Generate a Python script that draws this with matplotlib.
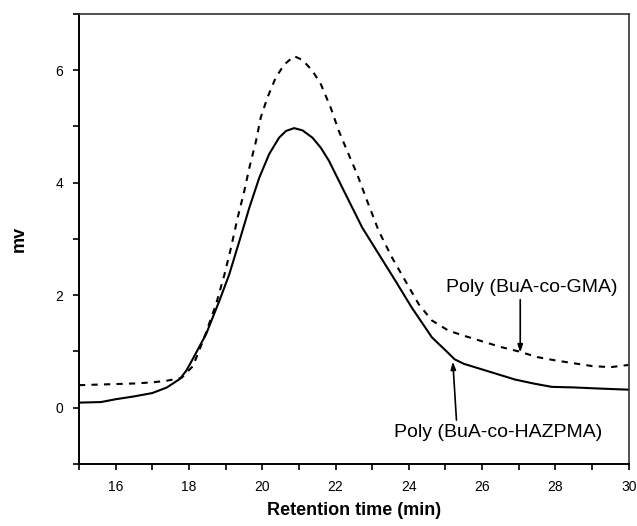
import matplotlib
matplotlib.use("Agg")
import matplotlib.pyplot as plt
from matplotlib.ticker import FixedLocator

# GPC traces (retention time in min, signal in mV)
hazpma_t = [15.0, 15.6, 16.0, 16.5, 17.0, 17.4, 17.75, 17.93, 18.1, 18.47,
            18.83, 19.10, 19.38, 19.65, 19.92, 20.19, 20.46, 20.65, 20.87, 21.1,
            21.37, 21.6, 21.82, 22.27, 22.73, 23.18, 23.63, 24.08, 24.63, 25.0,
            25.25, 25.5, 25.8, 26.4, 26.9, 27.4, 27.9, 28.5, 29.2, 30.0]
hazpma_mv = [0.09, 0.10, 0.15, 0.20, 0.26, 0.36, 0.51, 0.66, 0.86, 1.31,
             1.90, 2.37, 2.97, 3.56, 4.09, 4.51, 4.80, 4.92, 4.97, 4.93,
             4.80, 4.62, 4.39, 3.80, 3.20, 2.73, 2.26, 1.78, 1.25, 1.02,
             0.86, 0.78, 0.72, 0.60, 0.50, 0.43, 0.37, 0.36, 0.34, 0.32]

gma_t = [15.0, 15.5, 16.0, 16.5, 17.0, 17.4, 17.8, 18.11, 18.42, 18.74,
         18.97, 19.15, 19.33, 19.51, 19.65, 19.83, 19.96, 20.14, 20.37, 20.6,
         20.87, 21.1, 21.37, 21.6, 21.87, 22.09, 22.32, 22.59, 22.86, 23.18,
         23.54, 23.9, 24.27, 24.63, 25.08, 25.5, 26.0, 26.5, 27.0, 27.5,
         28.0, 28.5, 29.0, 29.5, 30.0]
gma_mv = [0.40, 0.41, 0.42, 0.43, 0.45, 0.48, 0.53, 0.74, 1.25, 1.84,
          2.37, 2.85, 3.38, 3.85, 4.27, 4.74, 5.16, 5.51, 5.87, 6.10,
          6.25, 6.18, 5.99, 5.75, 5.33, 4.92, 4.56, 4.15, 3.68, 3.14,
          2.67, 2.26, 1.84, 1.55, 1.37, 1.28, 1.18, 1.08, 1.00, 0.90,
          0.84, 0.79, 0.74, 0.72, 0.76]

x_major = [16, 18, 20, 22, 24, 26, 28, 30]
x_minor = [15, 17, 19, 21, 23, 25, 27, 29]
y_major = [0, 2, 4, 6]
y_minor = [-1, 1, 3, 5, 7]

plt.rcParams["font.family"] = ["Liberation Sans", "DejaVu Sans"]

fig = plt.figure(figsize=(6.37, 5.26), dpi=100)
ax = fig.add_axes([0.124, 0.118, 0.863, 0.8555])

ax.plot(hazpma_t, hazpma_mv, color="black", linewidth=1.5)
ax.plot(gma_t, gma_mv, color="black", linewidth=1.5, linestyle=(0, (3, 3)))

ax.set_xlim(15, 30)
ax.set_ylim(-1, 7)
ax.xaxis.set_major_locator(FixedLocator(x_major))
ax.xaxis.set_minor_locator(FixedLocator(x_minor))
ax.yaxis.set_major_locator(FixedLocator(y_major))
ax.yaxis.set_minor_locator(FixedLocator(y_minor))
ax.tick_params(which="both", direction="out", top=False, right=False,
               width=1.2, labelsize=10, pad=7)
ax.tick_params(which="major", length=4.5)
ax.tick_params(which="minor", length=4)
for side in ["left", "bottom"]:
    ax.spines[side].set_linewidth(1.4)
for side in ["top", "right"]:
    ax.spines[side].set_linewidth(1.2)
    ax.spines[side].set_color("#333333")

label_font = ["Liberation Sans Narrow", "Liberation Sans", "DejaVu Sans"]
ax.set_xlabel("Retention time (min)", fontsize=13, fontweight="bold",
              family=label_font, labelpad=6)
ax.set_ylabel("mv", fontsize=13, fontweight="bold", family=label_font,
              labelpad=20)

arrow = dict(arrowstyle="-|>,head_length=0.45,head_width=0.15",
             color="black", lw=1.2, shrinkA=0, shrinkB=0)
ax.annotate("", xy=(27.04, 0.98), xytext=(27.04, 1.92), arrowprops=arrow)
ax.text(27.36, 2.14, "Poly (BuA-co-GMA)", fontsize=14, ha="center", va="center")
ax.annotate("", xy=(25.2, 0.82), xytext=(25.3, -0.22), arrowprops=arrow)
ax.text(26.44, -0.44, "Poly (BuA-co-HAZPMA)", fontsize=14, ha="center", va="center")

fig.savefig("out.png", dpi=100)
